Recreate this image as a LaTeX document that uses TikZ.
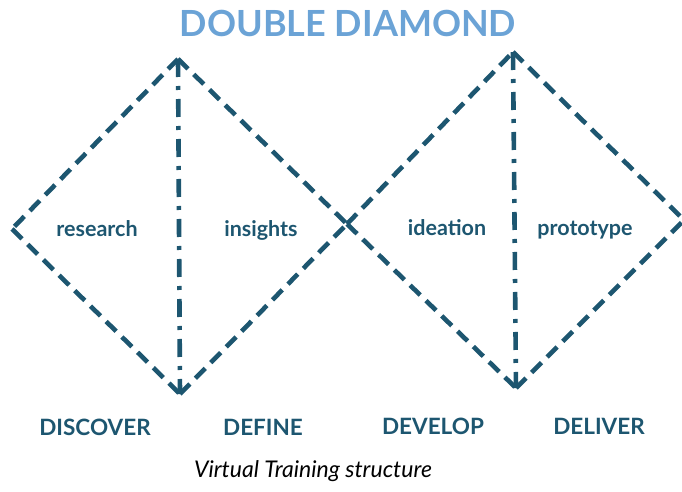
\documentclass[tikz,border=0pt]{standalone}
\usepackage{fontspec}
\setmainfont{Lato}
\definecolor{teal1}{HTML}{1D5670}
\definecolor{titleblue}{HTML}{6BA3D6}
\begin{document}
\begin{tikzpicture}[x=1pt,y=-1pt,
  side/.style={draw=teal1,line width=4.6pt,dash pattern=on 14pt off 8pt},
  axis/.style={draw=teal1,line width=4.6pt,dash pattern=on 18pt off 9pt on 4pt off 9pt},
  lbl/.style={text=teal1,font=\bfseries\fontsize{21.5}{24}\selectfont,inner sep=0pt,anchor=base},
  phase/.style={text=teal1,font=\bfseries\fontsize{22.5}{26}\selectfont,inner sep=0pt}]
\useasboundingbox (0,0) rectangle (682,492);
\node[text=titleblue,font=\bfseries\fontsize{36}{40}\selectfont,inner sep=0pt] (title) at (348,23) {DOUBLE DIAMOND};
\coordinate (L1) at (12,229);
\coordinate (T1) at (178,59);
\coordinate (B1) at (180,394);
\coordinate (M) at (347,224);
\coordinate (T2) at (513,52);
\coordinate (B2) at (516,388);
\coordinate (R2) at (684,220);
\draw[side] (T1) -- (L1);
\draw[side] (L1) -- (B1);
\draw[side] (T1) -- (M);
\draw[side] (B1) -- (M);
\draw[side] (M) -- (T2);
\draw[side] (M) -- (B2);
\draw[side] (T2) -- (R2);
\draw[side] (B2) -- (R2);
\draw[axis] (T1) -- (B1);
\draw[axis] (T2) -- (B2);
\node[lbl] (research) at (97,236) {research};
\node[lbl] (insights) at (261,236) {insights};
\node[lbl] (ideation) at (447,235) {ideation};
\node[lbl] (prototype) at (585,235) {prototype};
\node[phase] (discover) at (95,427) {DISCOVER};
\node[phase] (define) at (263,427) {DEFINE};
\node[phase] (develop) at (433,426) {DEVELOP};
\node[phase] (deliver) at (599,426) {DELIVER};
\node[text=black,font=\itshape\fontsize{23}{26}\selectfont,inner sep=0pt] (caption) at (313,471) {Virtual Training structure};
\end{tikzpicture}
\end{document}
